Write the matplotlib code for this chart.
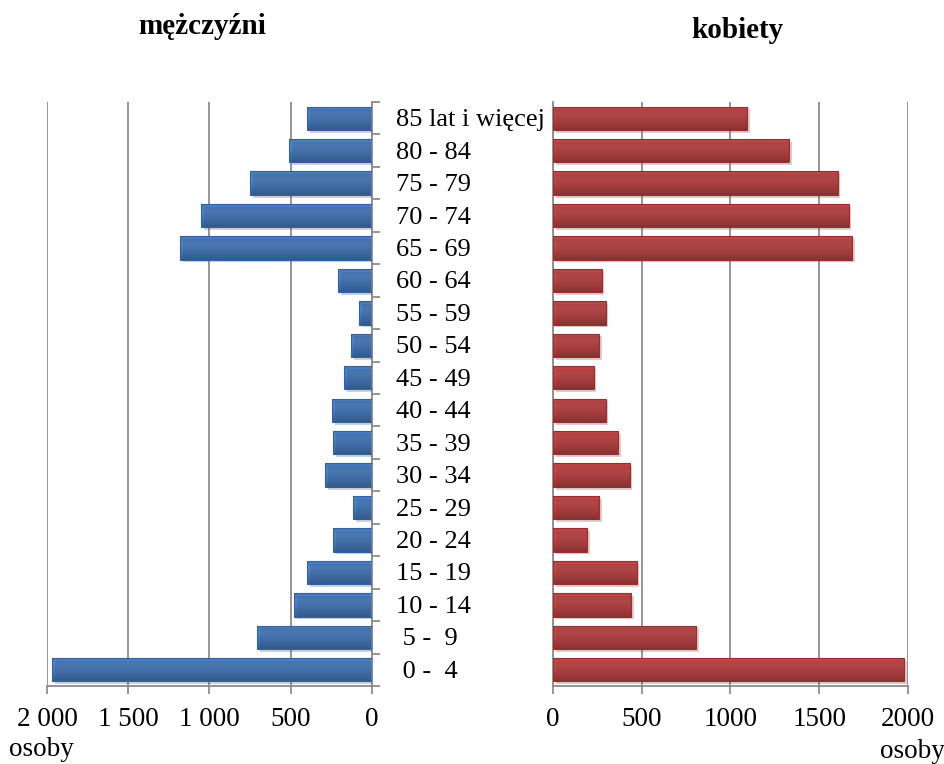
import matplotlib.pyplot as plt
import matplotlib.patheffects as pe
from matplotlib.colors import LinearSegmentedColormap
import numpy as np

plt.rcParams['font.family'] = ['Liberation Serif', 'DejaVu Serif']

# age groups, bottom to top
groups = [" 0 -  4", " 5 -  9", "10 - 14", "15 - 19", "20 - 24", "25 - 29",
          "30 - 34", "35 - 39", "40 - 44", "45 - 49", "50 - 54", "55 - 59",
          "60 - 64", "65 - 69", "70 - 74", "75 - 79", "80 - 84", "85 lat i więcej"]
men = [1970, 708, 480, 400, 240, 115, 290, 240, 245, 170, 130, 80,
       210, 1180, 1050, 750, 510, 400]
women = [1977, 807, 439, 471, 191, 259, 431, 368, 296, 229, 259, 296,
         274, 1683, 1666, 1604, 1332, 1095]

left_ticks = [2000, 1500, 1000, 500, 0]
left_ticklabels = ["2 000", "1 500", "1 000", "500", "0"]
right_ticks = [0, 500, 1000, 1500, 2000]
right_ticklabels = ["0", "500", "1000", "1500", "2000"]

W, H = 945, 764
fig = plt.figure(figsize=(W / 100, H / 100), dpi=100)

bottom = 1 - 686 / H
height = (686 - 102) / H
axL = fig.add_axes([47 / W, bottom, (372 - 47) / W, height])
axR = fig.add_axes([553 / W, bottom, (908 - 553) / W, height])

y = np.arange(len(groups))
shadow = [pe.SimplePatchShadow(offset=(2, -2), alpha=0.25), pe.Normal()]
grid_col = '#8c8c8c'

blue_cm = LinearSegmentedColormap.from_list('b', ['#2d5f9e', '#3a75c0', '#4a86d2', '#3f7cc9'])
red_cm = LinearSegmentedColormap.from_list('r', ['#9c2a2a', '#bf3838', '#d04545', '#c94040'])


def shaded_bars(ax, vals, cmap, edge):
    bars = ax.barh(y, vals, height=0.72, color='none', edgecolor=edge,
                   linewidth=0.8, zorder=3)
    grad = np.linspace(0, 1, 64).reshape(-1, 1)
    for b in bars:
        x0, y0 = b.get_x(), b.get_y()
        w, h = b.get_width(), b.get_height()
        im = ax.imshow(grad, cmap=cmap, aspect='auto', origin='lower',
                       extent=[x0, x0 + w, y0, y0 + h], zorder=2.5,
                       interpolation='bilinear')
        im.set_clip_path(b)
        b.set_path_effects(shadow)
    return bars


shaded_bars(axL, men, blue_cm, '#2f62a8')
shaded_bars(axR, women, red_cm, '#9e2c2c')

axL.set_xlim(2000, 0)
axR.set_xlim(0, 2000)
for ax in (axL, axR):
    ax.set_ylim(-0.5, len(groups) - 0.5)
    ax.set_aspect('auto')
    ax.grid(axis='x', color=grid_col, linewidth=1.3, zorder=0)
    for s in ax.spines.values():
        s.set_visible(False)
    ax.spines['bottom'].set_visible(True)
    ax.spines['bottom'].set_color(grid_col)
    ax.spines['bottom'].set_linewidth(1.3)
    ax.tick_params(axis='x', length=6, width=1.3, color=grid_col,
                   labelsize=19.5, pad=9)

axL.set_xticks(left_ticks)
axL.set_xticklabels(left_ticklabels)
axR.set_xticks(right_ticks)
axR.set_xticklabels(right_ticklabels)

# left chart: axis line on the right with category ticks
axL.spines['right'].set_visible(True)
axL.spines['right'].set_color(grid_col)
axL.spines['right'].set_linewidth(1.3)
axL.yaxis.tick_right()
axL.set_yticks(np.arange(len(groups) + 1) - 0.5)
axL.set_yticklabels([])
axL.tick_params(axis='y', length=6, width=1.3, color=grid_col)

axR.spines['left'].set_visible(True)
axR.spines['left'].set_color(grid_col)
axR.spines['left'].set_linewidth(1.3)
axR.set_yticks([])

# category labels between the two panels
for i, g in enumerate(groups):
    yy = bottom + height * (i + 0.5) / len(groups)
    fig.text(396 / W, yy - 2 / H, g, fontsize=19, ha='left', va='center')

fig.text(202 / W, 1 - 27 / H, "mężczyźni", fontsize=21, fontweight='bold',
         ha='center', va='center')
fig.text(737 / W, 1 - 31 / H, "kobiety", fontsize=21, fontweight='bold',
         ha='center', va='center')
fig.text(9 / W, 1 - 750 / H, "osoby", fontsize=19.5, ha='left', va='center')
fig.text(945 / W, 1 - 752 / H, "osoby", fontsize=19.5, ha='right', va='center')

fig.savefig("out.png", dpi=100)
